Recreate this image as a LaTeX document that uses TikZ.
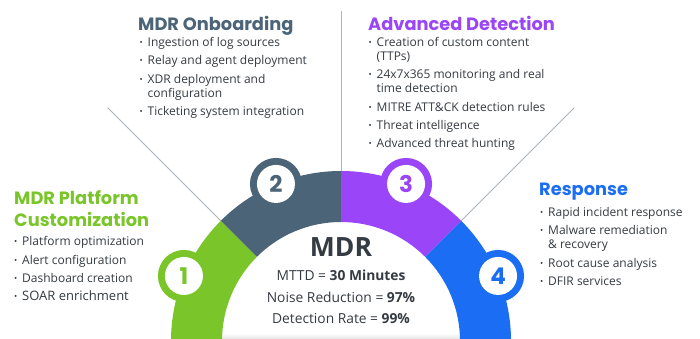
\documentclass[tikz,border=0pt]{standalone}
\usepackage{fontspec}
\setmainfont{Open Sans}
\newfontfamily\headfont{Poppins}
\usepackage{graphicx}

\definecolor{mdrgreen}{HTML}{7AC62A}
\definecolor{mdrslate}{HTML}{4B6478}
\definecolor{mdrpurple}{HTML}{9A45F8}
\definecolor{mdrblue}{HTML}{1B6EF3}
\definecolor{txtdark}{HTML}{353B42}
\definecolor{leadgray}{HTML}{A9B4BE}

% bullet lists
\newcommand{\bul}{\makebox[8pt][l]{\raisebox{1pt}{\scalebox{0.7}{\textbullet}}}}
\newcommand{\blist}[1]{{\fontsize{12}{14}\selectfont
  \begin{tabular}[t]{@{}l@{}l@{}}#1\end{tabular}}}

\tikzset{
  headtxt/.style={anchor=base west, inner sep=0pt, align=left,
    font=\headfont\bfseries\fontsize{17.8}{21.7}\selectfont},
  listtxt/.style={anchor=base west, inner sep=0pt, text=txtdark},
  numtxt/.style={inner sep=0pt, font=\headfont\bfseries\fontsize{23}{23}\selectfont},
  stattxt/.style={anchor=base, inner sep=0pt, text=txtdark,
    font=\fontsize{13.8}{15}\selectfont},
  leader/.style={leadgray, line width=0.8pt}
}

\begin{document}
\begin{tikzpicture}[x=1pt,y=1pt]
    \useasboundingbox (0,0) rectangle (700,339);
    \clip (0,0) rectangle (700,339);
    \fill[white] (0,0) rectangle (700,339);

    % faint shadow along the bottom of the centre
    \shade[top color=white, bottom color=black!10] (218,0) rectangle (466,6);

    \begin{scope}[shift={(341,-2)}]
        % thin leader lines between the parts
        \foreach \a in {45,90,135} {
            \coordinate (lead\a) at (\a:330);
            \draw[leader] (\a:170) -- (lead\a);
        }

        % ring parts with their numbered bumps
        \foreach \a/\col/\num in {135/mdrgreen/1, 90/mdrslate/2, 45/mdrpurple/3, 0/mdrblue/4} {
            \fill[\col] (\a:170) arc[start angle=\a, end angle=\a+45, radius=170pt]
                -- (\a+45:119) arc[start angle=\a+45, end angle=\a, radius=119pt] -- cycle;
            \fill[\col] (\a+22.5:170) circle (26pt);
            \fill[white] (\a+22.5:170) circle (19pt);
            \node[numtxt, text=\col] (num\num) at (\a+22.5:170) {\num};
        }
    \end{scope}

    % centre
    \node[anchor=base, inner sep=0pt, text=txtdark, font=\bfseries\fontsize{26.5}{30}\selectfont] (mdr) at (341,82) {MDR};
    \node[stattxt] (stat1) at (341,58) {MTTD = \textbf{30 Minutes}};
    \node[stattxt] (stat2) at (341,36.7) {Noise Reduction = \textbf{97\%}};
    \node[stattxt] (stat3) at (341,15) {Detection Rate = \textbf{99\%}};

    % headings
    \node[headtxt, text=mdrgreen] (head1) at (14,112.3) {MDR Platform\\Customization};
    \node[headtxt, text=mdrslate] (head2) at (138,308.5) {MDR Onboarding};
    \node[headtxt, text=mdrpurple] (head3) at (368,308.5) {Advanced Detection};
    \node[headtxt, text=mdrblue] (head4) at (539,143) {Response};

    % lists
    \node[listtxt] (list1) at (14,93) {\blist{
        \bul & Platform optimization\\[4.3pt]
        \bul & Alert configuration\\[4.3pt]
        \bul & Dashboard creation\\[4.3pt]
        \bul & {\fontsize{13}{14}\selectfont SOAR enrichment}}};
    \node[listtxt] (list2) at (139.5,292.3) {\blist{
        \bul & Ingestion of log sources\\[4.3pt]
        \bul & Relay and agent deployment\\[4.3pt]
        \bul & XDR deployment and\\
             & configuration\\[4.3pt]
        \bul & Ticketing system integration}};
    \node[listtxt] (list3) at (368.5,292.3) {\blist{
        \bul & Creation of custom content\\
             & (TTPs)\\[4.3pt]
        \bul & 24x7x365 monitoring and real\\
             & time detection\\[4.3pt]
        \bul & MITRE ATT\&CK detection rules\\[4.3pt]
        \bul & Threat intelligence\\[4.3pt]
        \bul & Advanced threat hunting}};
    \node[listtxt] (list4) at (540,122.3) {\blist{
        \bul & Rapid incident response\\[4.3pt]
        \bul & Malware remediation\\
             & \& recovery\\[4.3pt]
        \bul & Root cause analysis\\[4.3pt]
        \bul & DFIR services}};
\end{tikzpicture}
\end{document}
